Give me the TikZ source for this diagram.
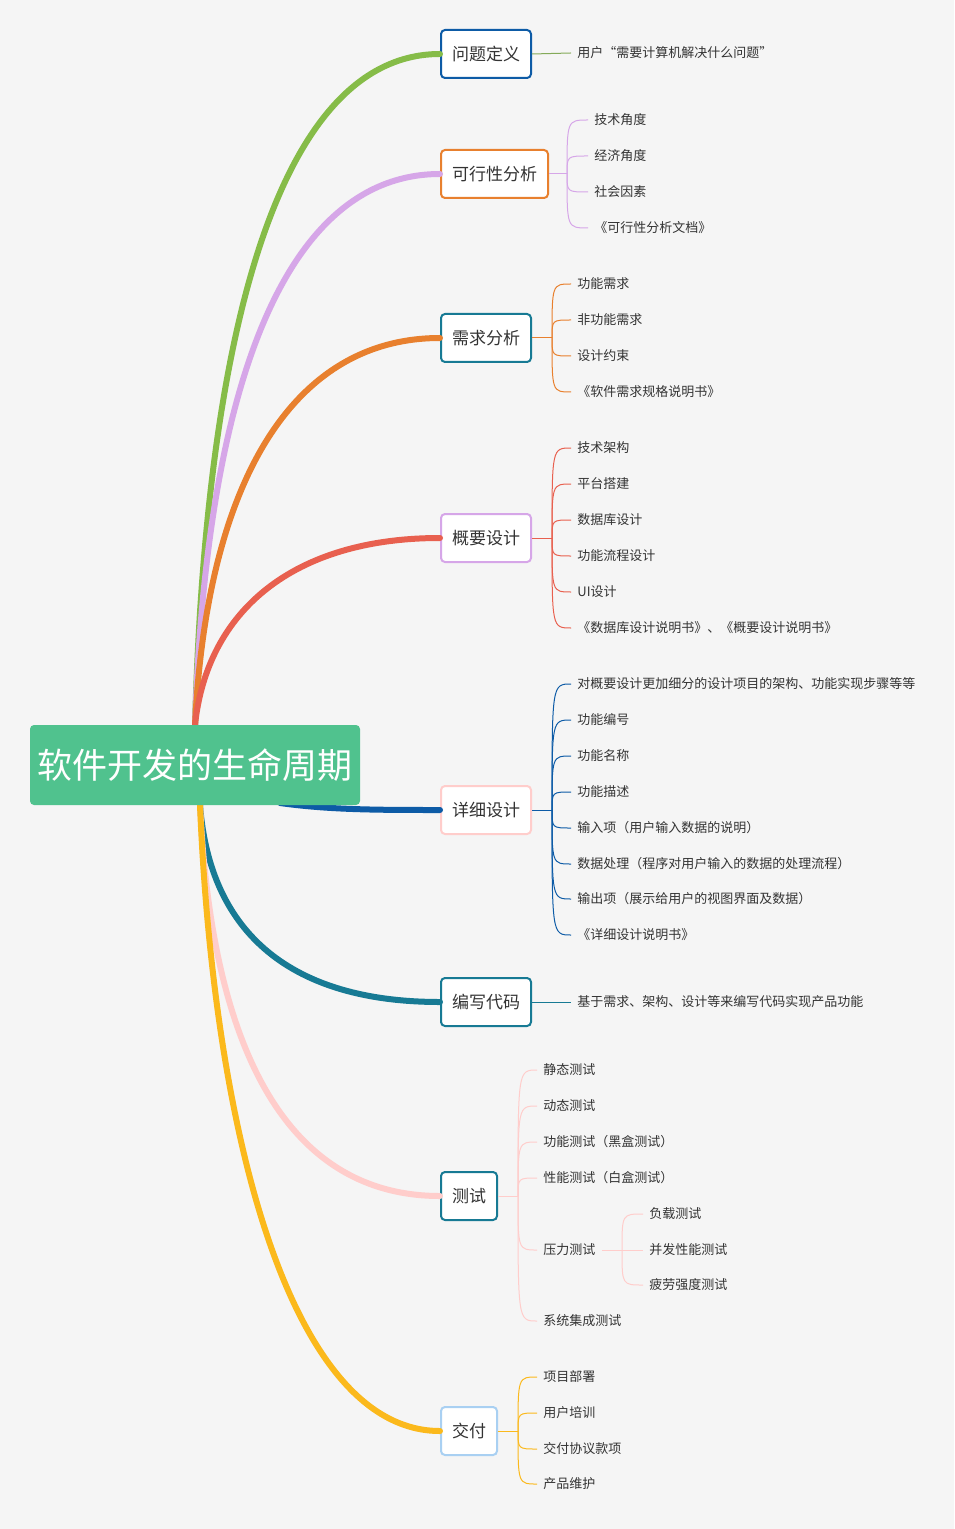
\documentclass[tikz,border=0pt]{standalone}
\usepackage{fontspec}
\setmainfont{Noto Sans CJK SC}
\usetikzlibrary{positioning, calc}
\definecolor{cgreen}{HTML}{86BC48}
\definecolor{clav}{HTML}{D6A6E8}
\definecolor{corange}{HTML}{E8802E}
\definecolor{cred}{HTML}{E8604F}
\definecolor{cblue}{HTML}{0D5BA6}
\definecolor{cteal}{HTML}{177A94}
\definecolor{cpink}{HTML}{FFCDCB}
\definecolor{cyellow}{HTML}{FBB91C}
\definecolor{clight}{HTML}{A9D0F2}
\definecolor{croot}{HTML}{50C28E}
\definecolor{ctext}{HTML}{333333}

\begin{document}
\begin{tikzpicture}
            [x=0.5pt, y=-0.5pt,
            topic/.style={draw=#1, line width=1pt, fill=white, rounded corners=2pt, minimum height=24pt, inner xsep=5.5pt, anchor=west, font=\fontsize{8.5}{10}\selectfont, text=ctext},
            leaf/.style={anchor=west, inner xsep=3pt, inner ysep=1pt, font=\fontsize{6.5}{8}\selectfont, text=ctext},
            rootbox/.style={fill=croot, rounded corners=2pt, minimum width=165pt, minimum height=40pt, inner xsep=0pt, text=white, font=\fontsize{17.5}{20}\selectfont},
            trunk/.style={line width=3pt, line cap=round},
            twig/.style={line width=0.5pt}]
            \fill[white!96!black] (0,0) rectangle (954,1529);

            \node[topic=cblue]   (t1) at (440,54)   {问题定义};
            \node[topic=corange] (t2) at (440,174)  {可行性分析};
            \node[topic=cteal]   (t3) at (440,338)  {需求分析};
            \node[topic=clav]    (t4) at (440,538)  {概要设计};
            \node[topic=cpink]   (t5) at (440,810)  {详细设计};
            \node[topic=cteal]   (t6) at (440,1002) {编写代码};
            \node[topic=cteal]   (t7) at (440,1196) {测试};
            \node[topic=clight]  (t8) at (440,1431) {交付};

            % main branches
            \draw[trunk, cgreen]  (195,725) .. controls (207,288)  and (293,54)   .. (t1.west);
            \draw[trunk, clav]    (195,725) .. controls (207,366)  and (293,174)  .. (t2.west);
            \draw[trunk, corange] (195,725) .. controls (207,481)  and (293,338)  .. (t3.west);
            \draw[trunk, cred]    (195,725) .. controls (207,611)  and (293,538)  .. (t4.west);
            \draw[trunk, cblue]   (280,803) .. controls (330,810) and (380,810) .. (t5.west);
            \draw[trunk, cteal]   (200,805) .. controls (210,935)  and (293,1002) .. (t6.west);
            \draw[trunk, cpink]   (200,805) .. controls (212,1060) and (293,1196) .. (t7.west);
            \draw[trunk, cyellow] (200,805) .. controls (214,1142) and (293,1431) .. (t8.west);
            \node[rootbox] (root) at (195,765) {软件开发的生命周期};

            % single leaves
            \node[leaf] (l1) at (571,53) {用户“需要计算机解决什么问题”};
            \draw[twig, cgreen!70!gray] (t1.east) -- (l1.west);
            \node[leaf] (l6) at (571,1002) {基于需求、架构、设计等来编写代码实现产品功能};
            \draw[twig, cteal] (t6.east) -- (l6.west);

            % leaf groups
            \coordinate (j2) at (567,174);
            \draw[twig, clav] (t2.east) -- (j2);
            \foreach \t/\y [count=\i] in {技术角度/120, 经济角度/156, 社会因素/192, 《可行性分析文档》/228} {
                \node[leaf] (b2\i) at (588,\y) {\t};
                \draw[twig, clav] (j2) .. controls (j2 |- b2\i.west) .. (b2\i.west);
            }

            \coordinate (j3) at (552,338);
            \draw[twig, corange] (t3.east) -- (j3);
            \foreach \t/\y [count=\i] in {功能需求/284, 非功能需求/320, 设计约束/356, 《软件需求规格说明书》/392} {
                \node[leaf] (b3\i) at (571,\y) {\t};
                \draw[twig, corange] (j3) .. controls (j3 |- b3\i.west) .. (b3\i.west);
            }

            \coordinate (j4) at (552,538);
            \draw[twig, cred] (t4.east) -- (j4);
            \foreach \t/\y [count=\i] in {技术架构/448, 平台搭建/484, 数据库设计/520, 功能流程设计/556, UI设计/592, 《数据库设计说明书》、《概要设计说明书》/628} {
                \node[leaf] (b4\i) at (571,\y) {\t};
                \draw[twig, cred] (j4) .. controls (j4 |- b4\i.west) .. (b4\i.west);
            }

            \coordinate (j5) at (552,810);
            \draw[twig, cblue] (t5.east) -- (j5);
            \foreach \t/\y [count=\i] in {对概要设计更加细分的设计项目的架构、功能实现步骤等等/684, 功能编号/720, 功能名称/756, 功能描述/792, 输入项（用户输入数据的说明）/828, 数据处理（程序对用户输入的数据的处理流程）/864, 输出项（展示给用户的视图界面及数据）/899, 《详细设计说明书》/935} {
                \node[leaf] (b5\i) at (571,\y) {\t};
                \draw[twig, cblue] (j5) .. controls (j5 |- b5\i.west) .. (b5\i.west);
            }

            \coordinate (j7) at (518,1196);
            \draw[twig, cpink] (t7.east) -- (j7);
            \foreach \t/\y [count=\i] in {静态测试/1070, 动态测试/1106, 功能测试（黑盒测试）/1142, 性能测试（白盒测试）/1178, 压力测试/1250, 系统集成测试/1321} {
                \node[leaf] (b7\i) at (537,\y) {\t};
                \draw[twig, cpink] (j7) .. controls (j7 |- b7\i.west) .. (b7\i.west);
            }
            \coordinate (j75) at (622,1250);
            \draw[twig, cpink] (b75.east) -- (j75);
            \foreach \t/\y [count=\i] in {负载测试/1214, 并发性能测试/1250, 疲劳强度测试/1285} {
                \node[leaf] (c7\i) at (643,\y) {\t};
                \draw[twig, cpink] (j75) .. controls (j75 |- c7\i.west) .. (c7\i.west);
            }

            \coordinate (j8) at (518,1431);
            \draw[twig, cyellow] (t8.east) -- (j8);
            \foreach \t/\y [count=\i] in {项目部署/1377, 用户培训/1413, 交付协议款项/1449, 产品维护/1484} {
                \node[leaf] (b8\i) at (537,\y) {\t};
                \draw[twig, cyellow] (j8) .. controls (j8 |- b8\i.west) .. (b8\i.west);
            }
        \end{tikzpicture}
\end{document}
